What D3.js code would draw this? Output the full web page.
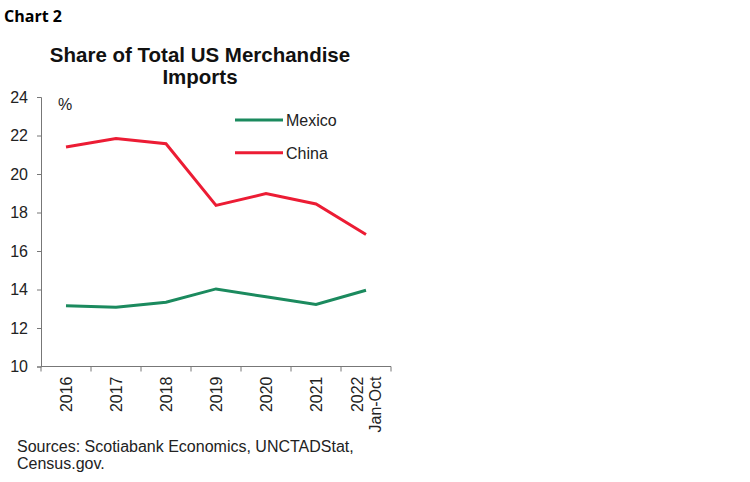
<!DOCTYPE html>
<html lang="en">
<head>
<meta charset="UTF-8">
<title>Chart 2</title>
<script src="https://d3js.org/d3.v7.min.js"></script>
<style>
	body {margin: 0; background: #fff;}
	text {font-family: "Liberation Sans", Arial, sans-serif;}
</style>
</head>
<body>
<div id="chart"></div>
<script>
	// data
	const years = ["2016", "2017", "2018", "2019", "2020", "2021", "2022 Jan-Oct"];
	const mexico = [13.15, 13.08, 13.34, 14.03, 13.62, 13.22, 13.96];
	const china = [21.40, 21.84, 21.57, 18.37, 18.98, 18.44, 16.86];
	const yTicks = [10, 12, 14, 16, 18, 20, 22, 24];

	const series = [
		{name: "Mexico", values: mexico, color: "#1b8a5e"},
		{name: "China", values: china, color: "#ec1c34"}
	];

	let svg = d3.select("#chart").append("svg")
		.attr("width", 750)
		.attr("height", 482);

	let x = d3.scaleBand().domain(years).range([41, 391]);
	let y = d3.scaleLinear().domain([10, 24]).range([366.5, 97]);

	// header
	svg.append("text")
		.attr("x", 4).attr("y", 22)
		.style("font-family", "'Open Sans', sans-serif")
		.attr("font-weight", "bold")
		.attr("font-size", "16px")
		.text("Chart 2");

	let title = svg.append("text")
		.attr("text-anchor", "middle")
		.attr("font-weight", "bold")
		.attr("font-size", "20.5px")
		.attr("fill", "#111");
	title.append("tspan").attr("x", 200).attr("y", 62).text("Share of Total US Merchandise");
	title.append("tspan").attr("x", 200).attr("y", 84).text("Imports");

	// y axis
	let yAxis = svg.append("g")
		.attr("transform", "translate(41,0)")
		.call(d3.axisLeft(y).tickValues(yTicks).tickSize(4).tickPadding(9));
	yAxis.select(".domain").attr("stroke", "#777");
	yAxis.selectAll(".tick line").attr("stroke", "#777");
	yAxis.selectAll(".tick text")
		.attr("font-size", "16px")
		.attr("fill", "#222")
		.style("font-family", "'Liberation Sans', Arial, sans-serif");

	// x axis: ticks between categories
	let xAxis = svg.append("g")
		.attr("transform", "translate(0," + y(10) + ")");
	xAxis.append("line")
		.attr("x1", x.range()[0]).attr("x2", x.range()[1])
		.attr("stroke", "#777");
	xAxis.selectAll("line.tk")
		.data(years.map(d => x(d)).concat([x.range()[1]]))
		.enter().append("line")
		.attr("class", "tk")
		.attr("x1", d => d).attr("x2", d => d)
		.attr("y1", 0).attr("y2", 5)
		.attr("stroke", "#777");

	let xl = svg.selectAll("text.xl")
		.data(years)
		.enter().append("text")
		.attr("class", "xl")
		.attr("transform", d => "translate(" + (x(d) + x.bandwidth() / 2) + "," + (y(10) + 10) + ") rotate(-90)")
		.attr("text-anchor", "end")
		.attr("font-size", "16px")
		.attr("fill", "#222");
	xl.each(function(d) {
		let parts = d.split(" ");
		let sel = d3.select(this);
		parts.forEach(function(p, i) {
			sel.append("tspan")
				.attr("x", 0)
				.attr("dy", parts.length == 1 ? "0.35em" : (i == 0 ? "-0.2em" : "1.15em"))
				.text(p);
		});
	});

	// % label
	svg.append("text")
		.attr("x", 58).attr("y", 110)
		.attr("font-size", "16px")
		.attr("fill", "#222")
		.text("%");

	// lines
	let line = d3.line()
		.x((d, i) => x(years[i]) + x.bandwidth() / 2)
		.y(d => y(d));

	svg.selectAll("path.series")
		.data(series)
		.enter().append("path")
		.attr("class", "series")
		.attr("fill", "none")
		.attr("stroke", d => d.color)
		.attr("stroke-width", 3)
		.attr("d", d => line(d.values));

	// legend
	let leg = svg.selectAll("g.leg")
		.data(series)
		.enter().append("g")
		.attr("class", "leg")
		.attr("transform", (d, i) => "translate(235," + (120 + i * 32.7) + ")");
	leg.append("line")
		.attr("x1", 0).attr("x2", 48)
		.attr("stroke", d => d.color)
		.attr("stroke-width", 3);
	leg.append("text")
		.attr("x", 51).attr("y", 6)
		.attr("font-size", "16px")
		.attr("fill", "#222")
		.text(d => d.name);

	// sources
	let src = svg.append("text")
		.attr("font-size", "16px")
		.attr("fill", "#222");
	src.append("tspan").attr("x", 17).attr("y", 452).text("Sources: Scotiabank Economics, UNCTADStat,");
	src.append("tspan").attr("x", 17).attr("y", 469).text("Census.gov.");
</script>
</body>
</html>
